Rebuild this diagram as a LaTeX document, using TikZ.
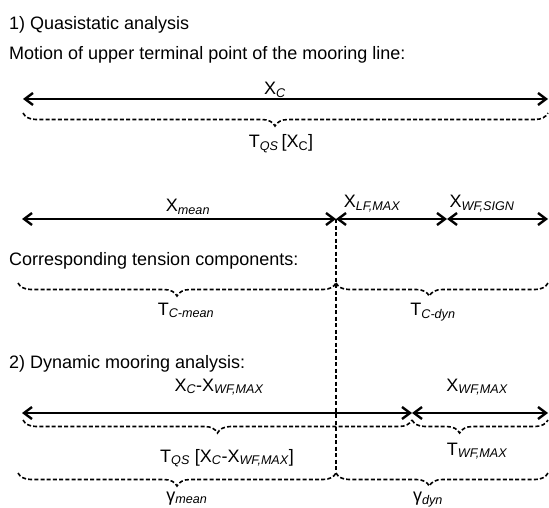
\documentclass[tikz,border=0pt]{standalone}
\usepackage{fontspec}
\setmainfont{Liberation Sans}
\usetikzlibrary{arrows.meta,decorations.pathreplacing}
\newcommand{\ssub}[1]{\textsubscript{\itshape #1}}

\begin{document}
\begin{tikzpicture}[x=1pt,y=1pt,
    every node/.style={font=\fontsize{18}{21}\selectfont,inner sep=0pt},
    dimline/.style={line width=2.4pt,{Straight Barb[length=8pt,width=12pt]}-{Straight Barb[length=8pt,width=12pt]}},
    dashbrace/.style={line width=1.6pt,dash pattern=on 4pt off 2.2pt,decorate,
      decoration={brace,mirror,amplitude=13pt,aspect=#1}},
    dashbrace/.default=0.5]
    \useasboundingbox (0,0) rectangle (549,507);

    \node[anchor=base west] (head1) at (9,477) {1) Quasistatic analysis};
    \node[anchor=base west] (head2) at (9,447) {Motion of upper terminal point of the mooring line:};
    \node[anchor=base west] (head3) at (9,242) {Corresponding tension components:};
    \node[anchor=base west] (head4) at (9,139) {2) Dynamic mooring analysis:};

    % total motion
    \coordinate (a1) at (23,408);
    \coordinate (a2) at (548,408);
    \draw[dimline] (a1) -- (a2);
    \node[anchor=base] (xc) at (275,412) {X\ssub{C}};
    \draw[dashbrace=0.48] (23,394) -- (548,394);
    \node[anchor=base] (tqs) at (281,359) {T\ssub{QS}\,[X\textsubscript{C}]};

    % split of the motion
    \def\yb{288}
    \coordinate (b1) at (22,\yb);
    \coordinate (b2) at (336,\yb);
    \coordinate (b3) at (447,\yb);
    \coordinate (b4) at (548,\yb);
    \draw[dimline] (b1) -- (b2);
    \draw[dimline] (b2) -- (b3);
    \draw[dimline] (b3) -- (b4);
    \node[anchor=base] (xmean) at (188,295) {X\ssub{mean}};
    \node[anchor=base] (xlf) at (372,299) {X\ssub{LF,MAX}};
    \node[anchor=base] (xwfs) at (482,299) {X\ssub{WF,SIGN}};

    \coordinate (vbot) at (336,34);
    \draw[line width=1.7pt,dash pattern=on 4pt off 2.5pt] (b2) -- (vbot);

    \draw[dashbrace] (18,224) -- (336,224);
    \draw[dashbrace=0.44] (336,224) -- (548,224);
    \node[anchor=base] (tcmean) at (186,192) {T\ssub{C-mean}};
    \node[anchor=base] (tcdyn) at (433,192) {T\ssub{C-dyn}};

    % dynamic analysis
    \def\yc{94}
    \coordinate (c1) at (22,\yc);
    \coordinate (c2) at (412,\yc);
    \coordinate (c3) at (548,\yc);
    \draw[dimline] (c1) -- (c2);
    \draw[dimline] (c2) -- (c3);
    \node[anchor=base] (xcwf) at (219,116) {X\ssub{C}-X\ssub{WF,MAX}};
    \node[anchor=base] (xwfmax) at (477,116) {X\ssub{WF,MAX}};

    \draw[dashbrace] (23,87) -- (412,87);
    \draw[dashbrace=0.35] (412,87) -- (548,87);
    \node[anchor=base] (tqs2) at (227,45) {T\ssub{QS} [X\ssub{C}-X\ssub{WF,MAX}]};
    \node[anchor=base] (twfmax) at (477,52) {T\ssub{WF,MAX}};

    \draw[dashbrace] (18,34) -- (vbot);
    \draw[dashbrace=0.44] (vbot) -- (548,34);
    \node[anchor=base] (gmean) at (187,6) {γ\ssub{mean}};
    \node[anchor=base] (gdyn) at (428,6) {γ\ssub{dyn}};
\end{tikzpicture}
\end{document}
